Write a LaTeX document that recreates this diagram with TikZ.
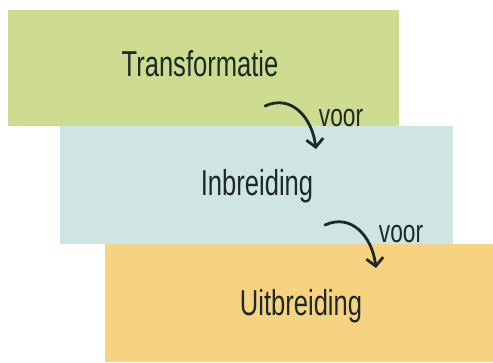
\documentclass[tikz,border=0pt]{standalone}
\usepackage{fontspec}
\setmainfont{Liberation Sans}[FakeStretch=0.71]
\usetikzlibrary{arrows.meta}
\definecolor{boxgreen}{RGB}{205,220,144}
\definecolor{boxblue}{RGB}{207,229,228}
\definecolor{boxorange}{RGB}{246,211,128}
\definecolor{ink}{RGB}{30,40,40}
\tikzset{
  layer/.style={draw=none, inner sep=0pt, anchor=north west},
  title/.style={anchor=base, inner sep=0pt, text=ink, font=\fontsize{36}{36}\selectfont},
  lbl/.style={anchor=base, inner sep=0pt, text=ink, font=\fontsize{32}{32}\selectfont},
  flow/.style={draw=ink, line width=2.8pt, line cap=round, -{Straight Barb[length=8pt,width=17pt,line width=2.8pt]}}
}
\begin{document}
\begin{tikzpicture}[x=1pt,y=-1pt]
\useasboundingbox (0,0) rectangle (493,362);
\node[layer, fill=boxgreen, minimum width=391pt, minimum height=116pt] (g) at (8,10) {};
\node[layer, fill=boxblue, minimum width=393pt, minimum height=118pt] (b) at (60,126) {};
\node[layer, fill=boxorange, minimum width=388pt, minimum height=118pt] (o) at (105,244) {};
\node[title] (t1) at (200,76) {Transformatie};
\node[title] (t2) at (257,195) {Inbreiding};
\node[title] (t3) at (301,315) {Uitbreiding};
\node[lbl] (v1) at (341,126) {voor};
\node[lbl] (v2) at (401,242) {voor};
\coordinate (a1s) at (265,106);
\coordinate (a1e) at (316,149);
\coordinate (a2s) at (325,225);
\coordinate (a2e) at (376,268);
\draw[flow] (a1s) .. controls ([shift={(26,-12)}]a1s) and ([shift={(-4,-32)}]a1e) .. (a1e);
\draw[flow] (a2s) .. controls ([shift={(26,-12)}]a2s) and ([shift={(-4,-32)}]a2e) .. (a2e);
\end{tikzpicture}
\end{document}
